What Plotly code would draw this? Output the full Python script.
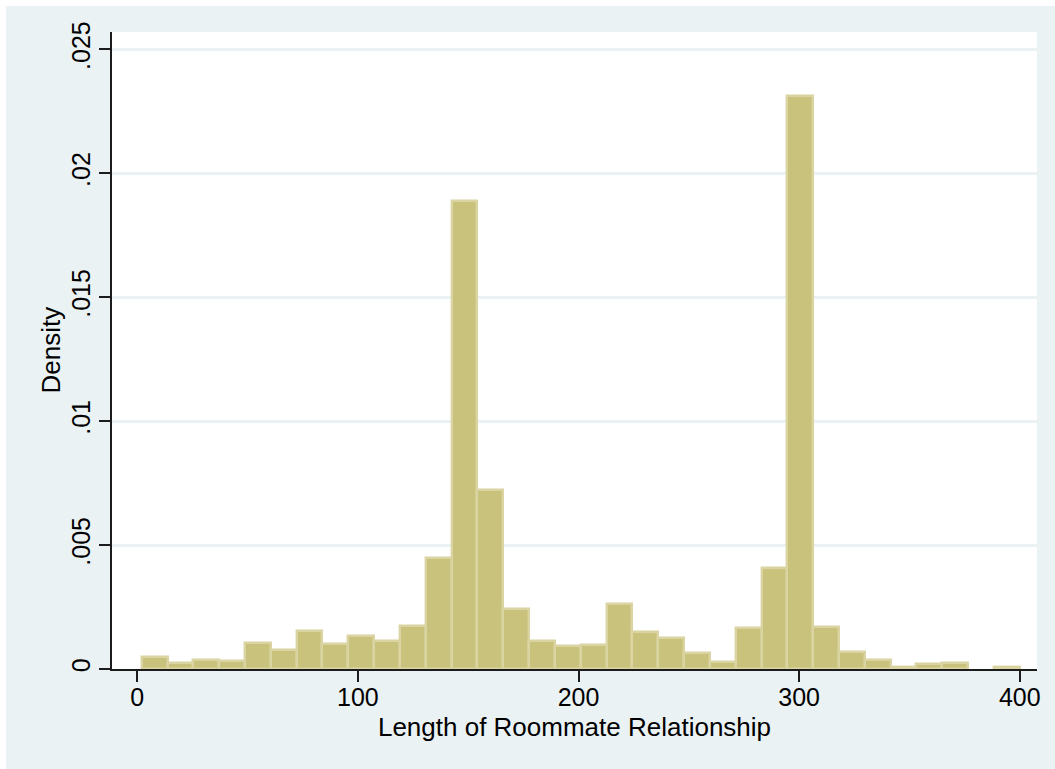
import plotly.graph_objects as go

# ---- data ----
bin_min = 2.0
bin_max = 400.0
densities = [0.00047, 0.00023, 0.00036, 0.00034, 0.00105, 0.00077, 0.00153,
             0.00101, 0.00133, 0.00113, 0.00172, 0.00447, 0.01889, 0.00724,
             0.00243, 0.00111, 0.00093, 0.00097, 0.00264, 0.00151, 0.00127,
             0.00066, 0.00030, 0.00166, 0.00408, 0.02313, 0.00170, 0.00069,
             0.00038, 0.00007, 0.00020, 0.00024, 0.0, 0.00007]
x_tickvals = [0, 100, 200, 300, 400]
x_ticktext = ["0", "100", "200", "300", "400"]
y_tickvals = [0, 0.005, 0.01, 0.015, 0.02, 0.025]
y_ticktext = ["0", ".005", ".01", ".015", ".02", ".025"]
x_title = "Length of Roommate Relationship"
y_title = "Density"

n_bins = len(densities)
bw = (bin_max - bin_min) / n_bins
centers = [bin_min + bw * (i + 0.5) for i in range(n_bins)]
heights = [d if d > 0 else None for d in densities]

W, H = 1055, 769
ML, MR, MT, MB = 112, 18, 32, 100
BG = "#EAF2F3"
FONT = "Liberation Sans, Arial, Helvetica, sans-serif"
AX = "#1c1c1c"

fig = go.Figure()
fig.add_trace(go.Bar(
    x=centers, y=heights, width=[bw] * n_bins,
    marker=dict(color="#C9C27D", line=dict(color="#D9D4A2", width=2.4)),
    hoverinfo="x+y",
))

pw = W - ML - MR
ph = H - MT - MB
def px2paper_x(px):
    return (px - ML) / pw
def px2paper_y(py):
    return (H - MB - py) / ph

# white border strips at left and top (outside the graph region)
fig.add_shape(type="rect", xref="paper", yref="paper",
              x0=px2paper_x(0), x1=px2paper_x(6), y0=px2paper_y(H), y1=px2paper_y(0),
              fillcolor="white", line=dict(width=0), layer="below")
fig.add_shape(type="rect", xref="paper", yref="paper",
              x0=px2paper_x(0), x1=px2paper_x(W), y0=px2paper_y(6), y1=px2paper_y(0),
              fillcolor="white", line=dict(width=0), layer="below")

# y axis title placed as rotated text
fig.add_annotation(text=y_title, xref="paper", yref="paper",
                   x=px2paper_x(50), y=0.5, xanchor="center", yanchor="middle",
                   textangle=-90, showarrow=False, font=dict(size=26))

fig.update_layout(
    width=W, height=H,
    margin=dict(l=ML, r=MR, t=MT, b=MB, pad=0),
    paper_bgcolor=BG, plot_bgcolor="white",
    font=dict(family=FONT, size=25, color="black"),
    showlegend=False,
    bargap=0,
    xaxis=dict(
        range=[-11.46, 407.8],
        tickvals=x_tickvals, ticktext=x_ticktext,
        ticks="outside", ticklen=11, tickwidth=1.8, tickcolor=AX,
        showline=True, linecolor=AX, linewidth=1.8,
        showgrid=False, zeroline=False,
        tickfont=dict(size=25),
        ticklabelstandoff=-6,
        title=dict(text=x_title, font=dict(size=26), standoff=8),
    ),
    yaxis=dict(
        range=[0, 0.0257],
        tickvals=y_tickvals, ticktext=y_ticktext,
        tickangle=-90,
        ticks="outside", ticklen=11, tickwidth=1.8, tickcolor=AX,
        showline=True, linecolor=AX, linewidth=1.8,
        showgrid=True, gridcolor=BG, gridwidth=2.5,
        zeroline=False,
        tickfont=dict(size=25),
        ticklabelstandoff=-1,
    ),
)

fig.write_html("out.html", config={"displayModeBar": False},
               post_script="document.body.style.margin='0';document.body.style.overflow='hidden';")
